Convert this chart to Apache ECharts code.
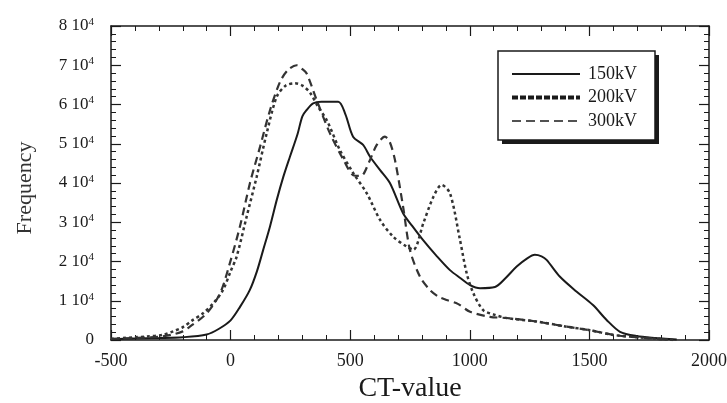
<!DOCTYPE html>
<html>
<head>
<meta charset="utf-8">
<script src="https://cdn.jsdelivr.net/npm/echarts@6/dist/echarts.min.js"></script>
<style>
  html, body { margin: 0; padding: 0; background: #fff; }
  #chart { width: 727px; height: 403px; }
</style>
</head>
<body>
<div id="chart"></div>
<script>
// values
const seriesNames = ["150kV", "200kV", "300kV"];

const ct150 = [-500, -400, -300, -200, -100, -50, 0, 40, 80, 110, 136, 165, 193, 220, 248, 280, 300, 318, 345, 380, 450, 480, 512, 554, 583, 625, 666, 721, 760, 804, 860, 917, 960, 1001, 1043, 1105, 1150, 1196, 1240, 1272, 1300, 1321, 1377, 1447, 1515, 1572, 1628, 1698, 1781, 1865];
const freq150 = [200, 400, 500, 700, 1400, 2800, 5000, 8500, 12700, 17500, 22900, 29000, 35700, 41500, 46700, 52500, 57000, 58600, 60300, 60700, 60700, 57500, 51800, 49700, 46700, 43300, 40000, 32300, 29000, 25500, 21500, 17800, 15800, 14000, 13200, 13500, 15800, 18700, 20800, 21700, 21300, 20400, 16100, 12300, 8900, 5100, 2100, 1000, 500, 100];

const ct200 = [-500, -450, -400, -350, -283, -240, -199, -160, -115, -70, -32, 0, 25, 67, 109, 151, 193, 230, 269, 300, 332, 365, 402, 457, 513, 569, 625, 680, 736, 764, 806, 848, 882, 917, 959, 987, 1015, 1056, 1100, 1154, 1279, 1405, 1502, 1599, 1698, 1850];
const freq200 = [300, 500, 700, 900, 1300, 2200, 3300, 5000, 6800, 9500, 12700, 17500, 21200, 31400, 41600, 52700, 62000, 64800, 65400, 64800, 63000, 59500, 56000, 48400, 42500, 37400, 30600, 26300, 23800, 23000, 29800, 36500, 39500, 37400, 25500, 17000, 11900, 7600, 6500, 5600, 4700, 3400, 2500, 1300, 700, 0];

const ct300 = [-500, -400, -300, -250, -200, -170, -100, -44, -3, 39, 81, 123, 165, 207, 240, 276, 300, 318, 360, 415, 472, 513, 545, 580, 611, 645, 665, 687, 721, 750, 792, 834, 870, 903, 950, 1001, 1084, 1154, 1279, 1405, 1502, 1599, 1698, 1850];
const freq300 = [300, 500, 800, 1300, 2200, 3400, 6800, 11900, 19600, 28900, 40000, 49200, 58600, 65800, 68800, 70000, 69000, 67900, 61100, 52700, 45900, 42000, 41800, 45500, 49700, 51800, 50500, 45900, 34000, 22900, 16100, 12700, 11000, 10200, 9200, 7200, 5900, 5600, 4700, 3400, 2500, 1300, 700, 0];

const xTicks = [-500, 0, 500, 1000, 1500, 2000];
const yTicks = [0, 10000, 20000, 30000, 40000, 50000, 60000, 70000, 80000];

const pairs = (xs, ys) => xs.map((x, i) => [x, ys[i]]);

let chartDom = document.getElementById("chart");
let myChart = echarts.init(chartDom);

const font = "Liberation Serif";
const ink = "#1a1a1a";

const lineStyles = [
  { color: ink, width: 2, type: "solid" },
  { color: "#333", width: 2.5, type: [3, 3] },
  { color: "#333", width: 2.2, type: [8, 5] }
];
// legend sample lines look heavier in the original
const legendLineStyles = [
  { stroke: ink, lineWidth: 1.8 },
  { stroke: ink, lineWidth: 4, lineDash: [6, 2] },
  { stroke: ink, lineWidth: 1.5, lineDash: [9, 5] }
];

const boxAxis = {
  axisLine: { show: true, onZero: false, lineStyle: { color: ink, width: 1.5 } },
  axisTick: { show: true, inside: true, length: 10, lineStyle: { color: ink, width: 1.2 } },
  minorTick: { show: true, splitNumber: 5, length: 5, lineStyle: { color: ink, width: 1 } },
  splitLine: { show: false }
};

// legend box drawn by hand, with a hard drop shadow
const legendX = 498, legendY = 51, legendW = 157, legendH = 89;
const legendGraphics = [
  {
    type: "rect",
    shape: { x: legendX + 4, y: legendY + 4, width: legendW, height: legendH },
    style: { fill: ink },
    z: 100
  },
  {
    type: "rect",
    shape: { x: legendX, y: legendY, width: legendW, height: legendH },
    style: { fill: "#fff", stroke: ink, lineWidth: 1.5 },
    z: 101
  }
];
seriesNames.forEach((name, i) => {
  const y = legendY + 23 + i * 23.5;
  legendGraphics.push({
    type: "line",
    shape: { x1: legendX + 14, y1: y, x2: legendX + 82, y2: y },
    style: legendLineStyles[i],
    z: 102
  });
  legendGraphics.push({
    type: "text",
    x: legendX + 90,
    y: y,
    style: { text: name, fontFamily: font, fontSize: 18, fill: ink, verticalAlign: "middle" },
    z: 102
  });
});

let option = {
  backgroundColor: "#fff",
  animation: false,
  grid: { left: 111, right: 18, top: 26, bottom: 63, containLabel: false, outerBoundsMode: "none" },
  graphic: legendGraphics,
  xAxis: [
    Object.assign({}, boxAxis, {
      type: "value",
      min: -500,
      max: 2000,
      interval: 500,
      name: "CT-value",
      nameLocation: "middle",
      nameGap: 34,
      nameTextStyle: { fontFamily: font, fontSize: 28, color: ink },
      axisLabel: {
        margin: 12,
        fontFamily: font,
        fontSize: 18,
        color: ink,
        formatter: v => (xTicks.indexOf(v) >= 0 ? String(v) : "")
      }
    }),
    Object.assign({}, boxAxis, {
      type: "value",
      position: "top",
      min: -500,
      max: 2000,
      interval: 500,
      axisLabel: { show: false }
    })
  ],
  yAxis: [
    Object.assign({}, boxAxis, {
      type: "value",
      min: 0,
      max: 80000,
      interval: 10000,
      name: "Frequency",
      nameLocation: "middle",
      nameGap: 75,
      nameTextStyle: { fontFamily: font, fontSize: 22, color: "#333", padding: [0, 10, 0, 0] },
      axisLabel: {
        margin: 17,
        fontFamily: font,
        fontSize: 17,
        color: ink,
        formatter: v => {
          if (yTicks.indexOf(v) < 0) return "";
          if (v === 0) return "{m|0}";
          return "{m|" + v / 10000 + " 10}{s|4}";
        },
        rich: {
          m: { fontFamily: font, fontSize: 17, color: ink },
          s: { fontFamily: font, fontSize: 11, color: ink, verticalAlign: "top", padding: [0, 0, 8, 0] }
        }
      }
    }),
    Object.assign({}, boxAxis, {
      type: "value",
      position: "right",
      min: 0,
      max: 80000,
      interval: 10000,
      axisLabel: { show: false }
    })
  ],
  series: seriesNames.map((name, i) => ({
    name: name,
    type: "line",
    xAxisIndex: 0,
    yAxisIndex: 0,
    showSymbol: false,
    symbol: "none",
    smooth: 0.3,
    lineStyle: lineStyles[i],
    data: [pairs(ct150, freq150), pairs(ct200, freq200), pairs(ct300, freq300)][i]
  }))
};

option && myChart.setOption(option);
</script>
</body>
</html>
